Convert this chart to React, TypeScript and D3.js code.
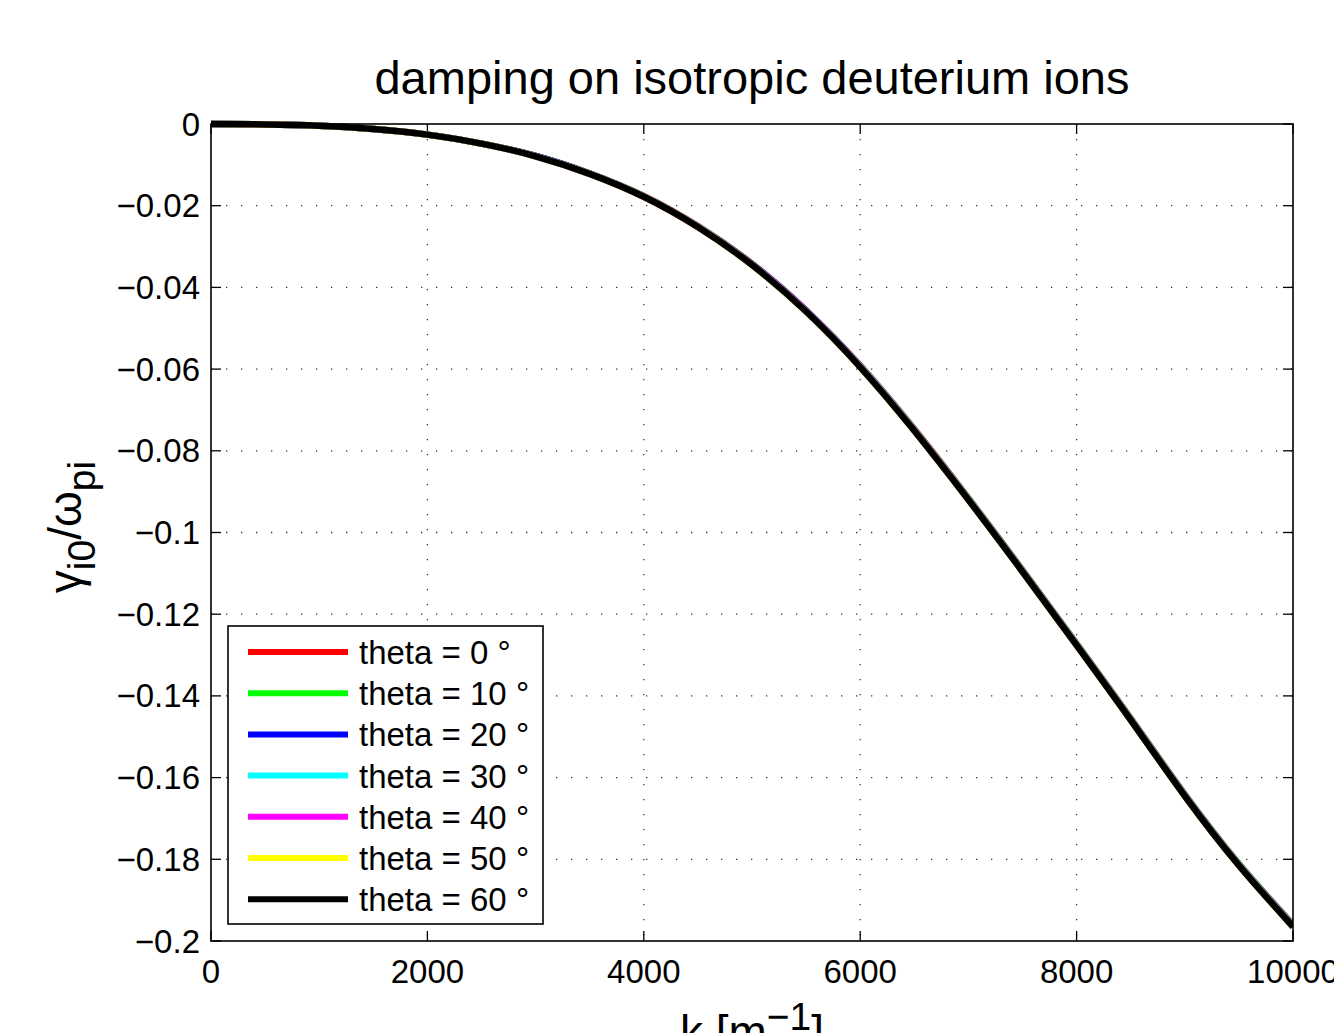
import React, { useEffect } from "react";
import * as d3 from "d3";

const kValues = [0, 500, 1000, 1500, 2000, 2500, 3000, 3500, 4000, 4500, 5000, 5500, 6000, 6500, 7000, 7500, 8000, 8500, 9000, 9500, 10000];

const theta0 = [0, -0.0001, -0.0004, -0.0012, -0.0026, -0.0048, -0.0078, -0.0121, -0.0176, -0.0250, -0.0342, -0.0456, -0.0591, -0.0747, -0.0916, -0.1092, -0.1272, -0.1455, -0.1641, -0.1811, -0.1960];
const theta10 = [0, -0.0001, -0.0004, -0.0012, -0.0026, -0.0048, -0.0078, -0.0121, -0.0177, -0.0251, -0.0343, -0.0457, -0.0592, -0.0748, -0.0917, -0.1093, -0.1273, -0.1456, -0.1642, -0.1812, -0.1961];
const theta20 = [0, -0.0001, -0.0004, -0.0012, -0.0026, -0.0048, -0.0078, -0.0121, -0.0177, -0.0251, -0.0343, -0.0457, -0.0593, -0.0749, -0.0918, -0.1094, -0.1274, -0.1457, -0.1643, -0.1813, -0.1962];
const theta30 = [0, -0.0001, -0.0004, -0.0012, -0.0026, -0.0048, -0.0079, -0.0122, -0.0177, -0.0251, -0.0344, -0.0458, -0.0593, -0.0749, -0.0918, -0.1094, -0.1274, -0.1457, -0.1643, -0.1813, -0.1963];
const theta40 = [0, -0.0001, -0.0004, -0.0012, -0.0026, -0.0048, -0.0079, -0.0122, -0.0178, -0.0252, -0.0344, -0.0458, -0.0594, -0.0750, -0.0919, -0.1095, -0.1275, -0.1458, -0.1644, -0.1814, -0.1964];
const theta50 = [0, -0.0001, -0.0004, -0.0012, -0.0026, -0.0048, -0.0079, -0.0122, -0.0178, -0.0252, -0.0345, -0.0459, -0.0595, -0.0751, -0.0920, -0.1096, -0.1276, -0.1459, -0.1645, -0.1815, -0.1965];
const theta60 = [0, -0.0001, -0.0004, -0.0012, -0.0026, -0.0048, -0.0079, -0.0122, -0.0178, -0.0252, -0.0345, -0.0459, -0.0595, -0.0751, -0.0920, -0.1096, -0.1276, -0.1459, -0.1645, -0.1815, -0.1965];

const seriesNames = ["theta = 0 °", "theta = 10 °", "theta = 20 °", "theta = 30 °", "theta = 40 °", "theta = 50 °", "theta = 60 °"];
const seriesColors = ["#ff0000", "#00ff00", "#0000ff", "#00ffff", "#ff00ff", "#ffff00", "#000000"];
const seriesValues = [theta0, theta10, theta20, theta30, theta40, theta50, theta60];

const xTicks = [0, 2000, 4000, 6000, 8000, 10000];
const yTicks = [0, -0.02, -0.04, -0.06, -0.08, -0.1, -0.12, -0.14, -0.16, -0.18, -0.2];

const W = 1334;
const H = 1033;
const FONT = "'Liberation Sans', Arial, Helvetica, sans-serif";

export default function App() {
  useEffect(() => {
    document.body.style.margin = "0";
    document.body.style.overflow = "hidden";
  }, []);

  const x = d3.scaleLinear().domain([0, 10000]).range([211, 1293]);
  const y = d3.scaleLinear().domain([-0.2, 0]).range([941, 124]);
  const [x0, x1] = x.range();
  const y0 = y(0);
  const yb = y(-0.2);

  const line = d3
    .line<[number, number]>()
    .x((d) => x(d[0]))
    .y((d) => y(d[1]))
    .curve(d3.curveNatural);

  const fmtY = (v: number) => (v === 0 ? "0" : "\u2212" + String(Math.abs(v)));
  const tickLen = 10;

  const legendX = 228;
  const legendY = 626;
  const legendW = 315;
  const legendH = 298;
  const rowH = 41.2;

  return (
    <svg width={W} height={H} style={{ position: "absolute", left: 0, top: 0, background: "#fff" }} fontFamily={FONT}>
      <rect x={0} y={0} width={W} height={H} fill="#fff" />
      <defs>
        <clipPath id="plotclip">
          <rect x={x0} y={y0 - 4} width={x1 - x0} height={yb - y0 + 4} />
        </clipPath>
      </defs>
      {/* grid */}
      {xTicks.slice(1, -1).map((t) => (
        <line key={"gx" + t} x1={x(t)} x2={x(t)} y1={y0} y2={yb} stroke="#333" strokeWidth={1.3} strokeDasharray="1.3 13.7" />
      ))}
      {yTicks.slice(1, -1).map((t) => (
        <line key={"gy" + t} x1={x0} x2={x1} y1={y(t)} y2={y(t)} stroke="#333" strokeWidth={1.3} strokeDasharray="1.3 13.7" />
      ))}
      {/* ticks */}
      {xTicks.map((t) => (
        <g key={"tx" + t}>
          <line x1={x(t)} x2={x(t)} y1={yb} y2={yb - tickLen} stroke="#000" strokeWidth={1.3} />
          <line x1={x(t)} x2={x(t)} y1={y0} y2={y0 + tickLen} stroke="#000" strokeWidth={1.3} />
          <text x={x(t)} y={983} textAnchor="middle" fontSize={33} fill="#000">
            {String(t)}
          </text>
        </g>
      ))}
      {yTicks.map((t) => (
        <g key={"ty" + t}>
          <line x1={x0} x2={x0 + tickLen} y1={y(t)} y2={y(t)} stroke="#000" strokeWidth={1.3} />
          <line x1={x1} x2={x1 - tickLen} y1={y(t)} y2={y(t)} stroke="#000" strokeWidth={1.3} />
          <text x={200} y={y(t) + 11.5} textAnchor="end" fontSize={33} fill="#000">
            {fmtY(t)}
          </text>
        </g>
      ))}
      {/* series */}
      <g clipPath="url(#plotclip)">
        {seriesValues.map((vals, i) => (
          <path
            key={"s" + i}
            d={line(kValues.map((k, j) => [k, vals[j]] as [number, number])) || ""}
            fill="none"
            stroke={seriesColors[i]}
            strokeWidth={6.5}
            strokeLinejoin="round"
          />
        ))}
      </g>
      {/* box */}
      <rect x={x0} y={y0} width={x1 - x0} height={yb - y0} fill="none" stroke="#000" strokeWidth={1.6} />
      {/* legend */}
      <rect x={legendX} y={legendY} width={legendW} height={legendH} fill="#fff" stroke="#000" strokeWidth={1.6} />
      {seriesNames.map((name, i) => {
        const cy = legendY + 26 + i * rowH;
        return (
          <g key={"lg" + i}>
            <line x1={248} x2={348} y1={cy} y2={cy} stroke={seriesColors[i]} strokeWidth={6} />
            <text x={359} y={cy + 12} fontSize={33} fill="#000">
              {name}
            </text>
          </g>
        );
      })}
      {/* title */}
      <text x={752} y={94} textAnchor="middle" fontSize={47} fill="#000">
        damping on isotropic deuterium ions
      </text>
      {/* x label */}
      <text x={752} y={1048} textAnchor="middle" fontSize={46} fill="#000">
        k [m<tspan dy={-18} fontSize={39}>{"\u22121"}</tspan>
        <tspan dy={18}>]</tspan>
      </text>
      {/* y label */}
      <text transform="translate(81,527) rotate(-90)" textAnchor="middle" fontSize={46} fill="#000">
        γ<tspan dy={14} fontSize={39}>i0</tspan>
        <tspan dy={-14}>/ω</tspan>
        <tspan dy={14} fontSize={39}>pi</tspan>
      </text>
    </svg>
  );
}
